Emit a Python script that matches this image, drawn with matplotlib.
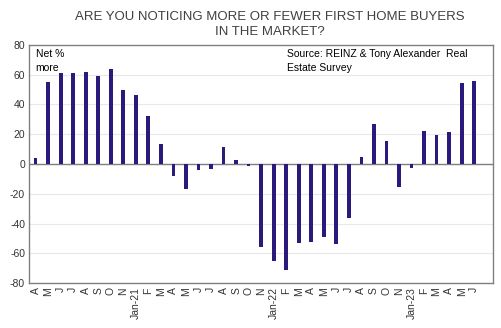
import matplotlib
matplotlib.use("Agg")
import matplotlib.pyplot as plt
import numpy as np

plt.rcParams['font.family'] = ['Liberation Sans', 'DejaVu Sans']

# monthly survey (no December readings)
months = ["A", "M", "J", "J", "A", "S", "O", "N",
          "Jan-21", "F", "M", "A", "M", "J", "J", "A", "S", "O", "N",
          "Jan-22", "F", "M", "A", "M", "J", "J", "A", "S", "O", "N",
          "Jan-23", "F", "M", "A", "M", "J"]
net_more = [4, 55, 61, 61, 62, 59, 64, 50,
            46.5, 32, 13.5, -8, -17, -4, -3.5, 11.5, 2.5, -1.6, -56,
            -65, -71, -53, -52.5, -49, -54, -36, 5, 27, 15.5, -15.7,
            -2.5, 22.5, 19.7, 21.7, 54.3, 55.6]
yticks = [-80, -60, -40, -20, 0, 20, 40, 60, 80]

fig = plt.figure(figsize=(5.01, 3.28), dpi=100)
ax = fig.add_axes([0.0585, 0.137, 0.9255, 0.726])

x = np.arange(len(months))
ax.bar(x, net_more, width=0.3, color='#2b1a7c', zorder=3)
ax.axhline(0, color='#808080', lw=1, zorder=2)

ax.set_ylim(-80, 80)
ax.set_xlim(-0.5, len(months) + 0.5)
ax.set_yticks(yticks)
ax.set_yticklabels([str(v) for v in yticks], fontsize=7.5, color='#333333')
ax.set_xticks(x)
ax.set_xticklabels(months, rotation=90, fontsize=7.5, color='#333333')
ax.tick_params(length=0, pad=3)
ax.grid(axis='y', color='#e8e8e8', lw=0.8, zorder=0)

for s in ax.spines.values():
    s.set_color('#808080')
    s.set_linewidth(1)

fig.text(0.538, 0.965, "ARE YOU NOTICING MORE OR FEWER FIRST HOME BUYERS\nIN THE MARKET?",
         ha='center', va='top', fontsize=9.5, color='#404040', linespacing=1.25)
ax.text(0.0, 77, "Net %\nmore", fontsize=7.5, va='top', ha='left', linespacing=1.4,
        zorder=4)
ax.text(20.1, 77, "Source: REINZ & Tony Alexander  Real\nEstate Survey", fontsize=7.5,
        va='top', ha='left', linespacing=1.4)

fig.savefig("out.png", dpi=100)
